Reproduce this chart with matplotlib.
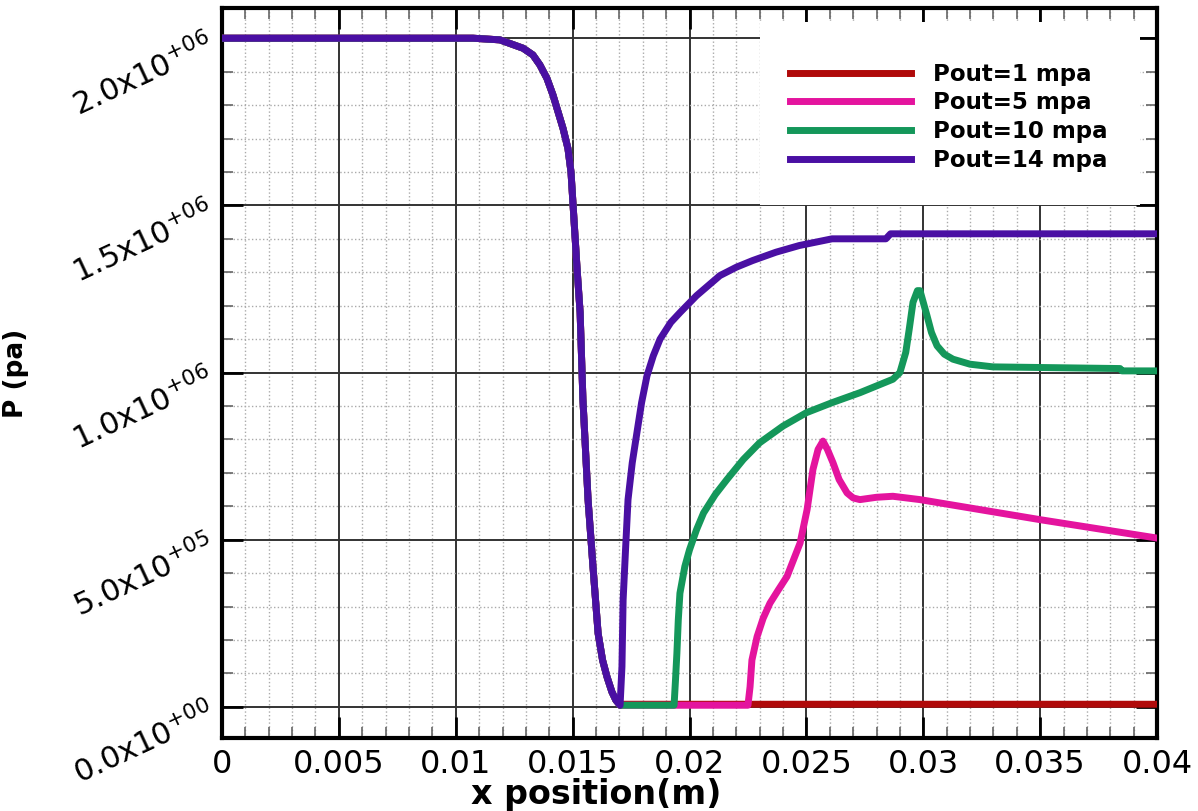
import numpy as np
import matplotlib
matplotlib.use("Agg")
import matplotlib.pyplot as plt
from matplotlib.ticker import MultipleLocator, FuncFormatter
from matplotlib.patches import Rectangle
import matplotlib.transforms as mtransforms

plt.rcParams['font.family'] = ['DejaVu Sans']
plt.rcParams['mathtext.default'] = 'regular'

# shared upstream part (all cases follow the same path before the shock)
x_up = [0.0, 0.01074, 0.01189, 0.01288, 0.0133, 0.0136, 0.0139, 0.01416,
        0.01459, 0.01480, 0.01493, 0.01502, 0.01519, 0.01532, 0.01544,
        0.01566, 0.01587, 0.01609, 0.01628, 0.01647, 0.01668, 0.01685,
        0.01703]
p_up = [2.0e6, 2.0e6, 1.995e6, 1.97e6, 1.95e6, 1.92e6, 1.88e6, 1.83e6,
        1.73e6, 1.67e6, 1.60e6, 1.5e6, 1.31e6, 1.18e6, 0.92e6,
        0.62e6, 0.42e6, 0.22e6, 0.14e6, 0.09e6, 0.045e6, 0.02e6,
        0.005e6]

# Pout = 1 mpa
x_p1 = [0.01711, 0.0225, 0.04]
p_p1 = [0.008e6, 0.008e6, 0.008e6]

# Pout = 5 mpa
x_p5 = [0.01711, 0.0225, 0.02259, 0.02267, 0.02289, 0.02315, 0.02344,
        0.0238, 0.02417, 0.02445, 0.02473, 0.02503, 0.02528, 0.0255,
        0.02571, 0.0259, 0.02614, 0.0264, 0.02674, 0.0270, 0.02729,
        0.028, 0.0287, 0.02986, 0.035, 0.04]
p_p5 = [0.005e6, 0.005e6, 0.06e6, 0.14e6, 0.21e6, 0.265e6, 0.31e6,
        0.35e6, 0.39e6, 0.44e6, 0.49e6, 0.59e6, 0.71e6, 0.77e6,
        0.795e6, 0.77e6, 0.73e6, 0.68e6, 0.64e6, 0.625e6, 0.62e6,
        0.627e6, 0.63e6, 0.62e6, 0.56e6, 0.505e6]

# Pout = 10 mpa
x_p10 = [0.01711, 0.01934, 0.0194, 0.01946, 0.01952, 0.01959, 0.0198,
         0.0200, 0.0203, 0.0206, 0.0211, 0.0216, 0.0223, 0.0230, 0.0240,
         0.0250, 0.0261, 0.0273, 0.0287, 0.0290, 0.02925, 0.0294, 0.02956,
         0.02975, 0.02986, 0.0300, 0.03016, 0.03035, 0.03059, 0.0309,
         0.03127, 0.032, 0.03298, 0.03842, 0.0385, 0.04]
p_p10 = [0.005e6, 0.005e6, 0.08e6, 0.16e6, 0.26e6, 0.34e6, 0.42e6,
         0.47e6, 0.53e6, 0.58e6, 0.635e6, 0.68e6, 0.74e6, 0.79e6, 0.84e6,
         0.88e6, 0.91e6, 0.94e6, 0.98e6, 1.0e6, 1.06e6, 1.13e6, 1.21e6,
         1.245e6, 1.245e6, 1.21e6, 1.17e6, 1.12e6, 1.08e6, 1.055e6,
         1.04e6, 1.025e6, 1.017e6, 1.012e6, 1.005e6, 1.005e6]

# Pout = 14 mpa
x_p14 = [0.01711, 0.01716, 0.01727, 0.01737, 0.01755, 0.01775, 0.01795,
         0.01818, 0.01845, 0.01874, 0.0192, 0.0196, 0.0203, 0.0213, 0.0220,
         0.0227, 0.0237, 0.0247, 0.0261, 0.0284, 0.0286, 0.04]
p_p14 = [0.12e6, 0.32e6, 0.48e6, 0.62e6, 0.73e6, 0.82e6, 0.91e6,
         0.99e6, 1.05e6, 1.10e6, 1.15e6, 1.18e6, 1.23e6, 1.29e6, 1.315e6,
         1.335e6, 1.36e6, 1.38e6, 1.40e6, 1.40e6, 1.415e6, 1.415e6]

labels = ['Pout=1 mpa', 'Pout=5 mpa', 'Pout=10 mpa', 'Pout=14 mpa']
colors = ['#b00a0a', '#e4149e', '#14975a', '#4a0fa3']
series = [(x_p1, p_p1), (x_p5, p_p5), (x_p10, p_p10), (x_p14, p_p14)]

fig = plt.figure(figsize=(11.98, 8.11), dpi=100)
ax = fig.add_axes([0.1853, 0.090, 0.7805, 0.900])

lines = []
for (xs, ps), c, lab in zip(series, colors, labels):
    ln, = ax.plot(x_up + xs, p_up + ps, color=c, lw=5, label=lab,
                  solid_joinstyle='round', zorder=3)
    lines.append(ln)

ax.set_xlim(0, 0.04)
ax.set_ylim(-0.093e6, 2.09e6)

ax.xaxis.set_major_locator(MultipleLocator(0.005))
ax.xaxis.set_minor_locator(MultipleLocator(0.001))
ax.yaxis.set_major_locator(MultipleLocator(5e5))
ax.yaxis.set_minor_locator(MultipleLocator(1e5))
ax.set_yticks([0, 5e5, 1e6, 1.5e6, 2e6])


def yfmt(v, pos):
    if v == 0:
        m, e = 0.0, 0
    else:
        e = int(np.floor(np.log10(abs(v)) + 1e-9))
        m = v / 10 ** e
    return "%.1fx10$^{+%02d}$" % (m, e)


ax.yaxis.set_major_formatter(FuncFormatter(yfmt))
ax.xaxis.set_major_formatter(FuncFormatter(lambda v, p: "%g" % round(v, 4)))

ax.grid(which='major', color='#333333', lw=1.4, ls='-')
ax.grid(which='minor', color='#aaaaaa', lw=1.0, ls=':')

ax.tick_params(which='both', direction='in', top=True, right=True)
ax.tick_params(which='major', length=15, width=2, colors='black')
ax.tick_params(which='minor', length=8, width=1.2, color='#666666')
ax.tick_params(axis='x', labelsize=23, pad=8)
ax.tick_params(axis='y', labelsize=22, pad=12)

for lbl in ax.get_yticklabels():
    lbl.set_rotation(25)
    lbl.set_rotation_mode('anchor')
    lbl.set_ha('right')
    lbl.set_va('top')
    lbl.set_transform(lbl.get_transform() +
                      mtransforms.ScaledTranslation(0, 0.1, fig.dpi_scale_trans))

for s in ax.spines.values():
    s.set_linewidth(3)
    s.set_color('black')

# white box behind the legend
ax.add_patch(Rectangle((0.575, 0.730), 0.407, 0.251, transform=ax.transAxes,
                       facecolor='white', edgecolor='none', zorder=2))

ax.legend(handles=lines, loc='upper left', bbox_to_anchor=(0.595, 0.941),
          frameon=False, borderpad=0, handlelength=5.3, handletextpad=0.95,
          labelspacing=0.25, prop={'weight': 'bold', 'size': 16.5})

ax.set_ylabel('P (pa)', fontsize=19, fontweight='bold')
ax.yaxis.set_label_coords(-0.206, 0.5)
ax.set_xlabel('x position(m)', fontsize=24, fontweight='bold')
ax.xaxis.label.set_va('center')
ax.xaxis.set_label_coords(0.4, -0.078)

fig.savefig('out.png', dpi=100)
